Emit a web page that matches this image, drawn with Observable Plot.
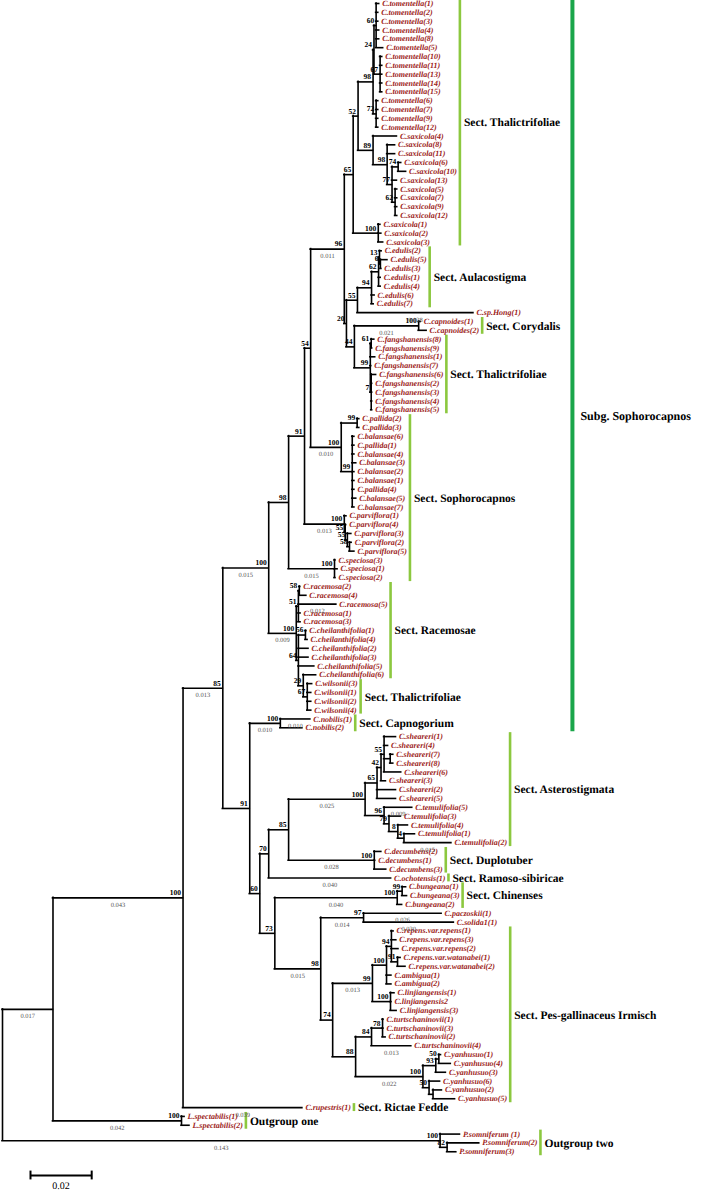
<!DOCTYPE html>
<html><head><meta charset="utf-8">
<script src="https://cdn.jsdelivr.net/npm/d3@7"></script>
<script src="https://cdn.jsdelivr.net/npm/@observablehq/plot@0.6"></script>
<style>
html,body{margin:0;padding:0;background:#fff;}
#chart svg{display:block;}
#chart svg text{-webkit-font-smoothing:antialiased;text-rendering:geometricPrecision;}
</style>
</head><body><div id="chart"></div>
<script>
// ---------- DATA (branch lengths in substitutions/site, support values) ----------
const L = (name, len) => ({name, length: len, children: []});
const C = (support, len, ...kids) => ({name: support, length: len, children: kids});

const tomentella = C("98", 0.0049,
  C("24", 0.0003,
    C("60", 0.0007, L("C.tomentella(1)", 0.001), L("C.tomentella(2)", 0.0007), L("C.tomentella(3)", 0.0007), L("C.tomentella(4)", 0.001), L("C.tomentella(8)", 0.001), L("C.tomentella(5)", 0.0023)),
    C("67", 0.002, L("C.tomentella(10)", 0.0007), L("C.tomentella(11)", 0.0007), L("C.tomentella(13)", 0.0007), L("C.tomentella(14)", 0.0007), L("C.tomentella(15)", 0.0007))),
  C("72", 0.001, L("C.tomentella(6)", 0.0007), L("C.tomentella(7)", 0.0007), L("C.tomentella(9)", 0.0007), L("C.tomentella(12)", 0.0007)));

const saxicolaA = C("89", 0.0049, L("C.saxicola(4)", 0.0078),
  C("98", 0.0046, L("C.saxicola(8)", 0.0026), L("C.saxicola(11)", 0.0026),
    C("77", 0.0016,
      C("74", 0.002, L("C.saxicola(6)", 0.001), L("C.saxicola(10)", 0.0026)),
      L("C.saxicola(13)", 0.0016),
      C("62", 0.001, L("C.saxicola(5)", 0.0007), L("C.saxicola(7)", 0.0007), L("C.saxicola(9)", 0.0007), L("C.saxicola(12)", 0.0007)))));

const saxicolaB = C("100", 0.0082, L("C.saxicola(1)", 0.0007), L("C.saxicola(2)", 0.001), L("C.saxicola(3)", 0.0016));

const edulis = C("94", 0.0046,
  C("62", 0.0023,
    C("13", 0.0003, L("C.edulis(2)", 0.0007), C("6", 0.0003, L("C.edulis(5)", 0.0023), L("C.edulis(3)", 0.0003))),
    L("C.edulis(1)", 0.0007), L("C.edulis(4)", 0.0007)),
  L("C.edulis(6)", 0.001), L("C.edulis(7)", 0.0007));

const capnoides = C("100", 0.021, L("C.capnoides(1)", 0.0007), L("C.capnoides(2)", 0.0026));

const fangshanensis = C("99", 0.0052,
  C("61", 0.0003, L("C.fangshanensis(8)", 0.001), L("C.fangshanensis(9)", 0.0003)),
  L("C.fangshanensis(1)", 0.0016), L("C.fangshanensis(7)", 0.0003),
  C("7", 0.0003, L("C.fangshanensis(6)", 0.0016), L("C.fangshanensis(2)", 0.0003), L("C.fangshanensis(3)", 0.0003), L("C.fangshanensis(4)", 0.0003), L("C.fangshanensis(5)", 0.0003)));

const clade96 = C("96", 0.011,
  C("65", 0.0029, C("52", 0.0016, tomentella, saxicolaA), saxicolaB),
  C("20", 0.0007,
    C("55", 0.0036, edulis, L("C.sp.Hong(1)", 0.0379)),
    C("44", 0.0026, capnoides, fangshanensis)));

const balansae = C("100", 0.010,
  C("99", 0.0052, L("C.pallida(2)", 0.0007), L("C.pallida(3)", 0.0007)),
  C("99", 0.0036, L("C.balansae(6)", 0.0007), L("C.pallida(1)", 0.0007), L("C.balansae(4)", 0.0007), L("C.balansae(3)", 0.0013), L("C.balansae(2)", 0.0007), L("C.balansae(1)", 0.0007), L("C.pallida(4)", 0.0007), L("C.balansae(5)", 0.0013), L("C.balansae(7)", 0.0007)));

const parviflora = C("100", 0.013, L("C.parviflora(1)", 0.0007),
  C("55", 0.0003, L("C.parviflora(4)", 0.0003),
    C("55", 0.0007, L("C.parviflora(3)", 0.0013),
      C("58", 0.0007, L("C.parviflora(2)", 0.0007), L("C.parviflora(5)", 0.0016)))));

const speciosa = C("100", 0.015, L("C.speciosa(3)", 0.0003), L("C.speciosa(1)", 0.001), L("C.speciosa(2)", 0.0003));

const racemosae = C("100", 0.009,
  C("51", 0.0007,
    C("58", 0.0003, L("C.racemosa(2)", 0.0003), L("C.racemosa(4)", 0.0023)),
    L("C.racemosa(5)", 0.0124), L("C.racemosa(1)", 0.0007), L("C.racemosa(3)", 0.0007)),
  C("64", 0.0007,
    C("56", 0.0023, L("C.cheilanthifolia(1)", 0.0003), L("C.cheilanthifolia(4)", 0.0007)),
    L("C.cheilanthifolia(2)", 0.0033), L("C.cheilanthifolia(3)", 0.0033), L("C.cheilanthifolia(5)", 0.0052),
    C("29", 0.0016, L("C.cheilanthifolia(6)", 0.0042),
      C("67", 0.0013, L("C.wilsonii(3)", 0.0016), L("C.wilsonii(1)", 0.0013), L("C.wilsonii(2)", 0.0013), L("C.wilsonii(4)", 0.0013)))));

const sophorocapnos = C("100", 0.015,
  C("98", 0.0065,
    C("91", 0.0052, C("54", 0.002, clade96, balansae), parviflora),
    speciosa),
  racemosae);

const nobilis = C("100", 0.010, L("C.nobilis(1)", 0.0098), L("C.nobilis(2)", 0.0072));

const asterostigmata = C("100", 0.025,
  C("65", 0.0039,
    C("42", 0.0013,
      C("55", 0.001, L("C.sheareri(1)", 0.0039), L("C.sheareri(4)", 0.0013), C("", 0.002, L("C.sheareri(7)", 0.001), L("C.sheareri(8)", 0.001)), L("C.sheareri(6)", 0.0056)),
      L("C.sheareri(3)", 0.0016)),
    L("C.sheareri(2)", 0.0062), L("C.sheareri(5)", 0.0062)),
  C("96", 0.0062, L("C.temulifolia(5)", 0.0092),
    C("79", 0.0016, L("C.temulifolia(3)", 0.0039),
      C("8", 0.0029, L("C.temulifolia(4)", 0.0033),
        C("4", 0.002, L("C.temulifolia(1)", 0.0036), L("C.temulifolia(2)", 0.0155))))));

const decumbens = C("100", 0.028, L("C.decumbens(2)", 0.0023), L("C.decumbens(1)", 0.0003), L("C.decumbens(3)", 0.0039));

const bungeana = C("100", 0.040, C("99", 0.0016, L("C.bungeana(1)", 0.0013), L("C.bungeana(3)", 0.0016)), L("C.bungeana(2)", 0.0016));

const solida = C("97", 0.014, L("C.paczoskii(1)", 0.0255), L("C.solida1(1)", 0.0295));

const repens = C("99", 0.013,
  C("100", 0.0046,
    C("94", 0.0016, L("C.repens.var.repens(1)", 0.0007), L("C.repens.var.repens(3)", 0.0016), L("C.repens.var.repens(2)", 0.0023),
      C("91", 0.002, L("C.repens.var.watanabei(1)", 0.001), L("C.repens.var.watanabei(2)", 0.0026))),
    L("C.ambigua(1)", 0.0016), L("C.ambigua(2)", 0.0016)),
  C("100", 0.0059, L("C.linjiangensis(1)", 0.0013), L("C.linjiangensis2", 0.0003), L("C.linjiangensis(3)", 0.002)));

const yanhusuo = C("88", 0.0075,
  C("84", 0.0052,
    C("78", 0.0036, L("C.turtschaninovii(1)", 0.0003), L("C.turtschaninovii(3)", 0.0003), L("C.turtschaninovii(2)", 0.001)),
    L("C.turtschaninovii(4)", 0.013)),
  C("100", 0.022,
    C("93", 0.0042, C("50", 0.001, L("C.yanhusuo(1)", 0.0007), L("C.yanhusuo(4)", 0.0039)), L("C.yanhusuo(3)", 0.0033)),
    C("50", 0.002, L("C.yanhusuo(6)", 0.0036), C("", 0.0013, L("C.yanhusuo(2)", 0.0029), L("C.yanhusuo(5)", 0.0072)))));

const lowerClade = C("91", 0.0088, nobilis,
  C("60", 0.0033,
    C("70", 0.0029, C("85", 0.0065, asterostigmata, decumbens), L("C.ochotensis(1)", 0.040)),
    C("73", 0.0049, bungeana,
      C("98", 0.015, solida, C("74", 0.0039, repens, yanhusuo)))));

const tree = C("", 0,
  C("", 0.0165,
    C("100", 0.0425, C("85", 0.013, sophorocapnos, lowerClade), L("C.rupestris(1)", 0.039)),
    C("100", 0.042, L("L.spectabilis(1)", 0.001), L("L.spectabilis(2)", 0.0026))),
  C("100", 0.143, L("P.somniferum (1)", 0.0065), C("82", 0.0023, L("P.somniferum(2)", 0.0105), L("P.somniferum(3)", 0.003))));

// branch-length annotations: [text, first leaf of clade, last leaf of clade]
const branchLengthLabels = [
  ["0.017", "C.tomentella(1)", "L.spectabilis(2)"],
  ["0.143", "P.somniferum (1)", "P.somniferum(3)"],
  ["0.043", "C.tomentella(1)", "C.rupestris(1)"],
  ["0.042", "L.spectabilis(1)", "L.spectabilis(2)"],
  ["0.039", "C.rupestris(1)", "C.rupestris(1)"],
  ["0.013", "C.tomentella(1)", "C.yanhusuo(5)"],
  ["0.015", "C.tomentella(1)", "C.wilsonii(4)"],
  ["0.009", "C.racemosa(2)", "C.wilsonii(4)"],
  ["0.015", "C.speciosa(3)", "C.speciosa(2)"],
  ["0.013", "C.parviflora(1)", "C.parviflora(5)"],
  ["0.010", "C.pallida(2)", "C.balansae(7)"],
  ["0.011", "C.tomentella(1)", "C.fangshanensis(5)"],
  ["0.038", "C.sp.Hong(1)", "C.sp.Hong(1)"],
  ["0.021", "C.capnoides(1)", "C.capnoides(2)"],
  ["0.012", "C.racemosa(5)", "C.racemosa(5)"],
  ["0.010", "C.nobilis(1)", "C.nobilis(2)"],
  ["0.010", "C.nobilis(1)", "C.nobilis(1)"],
  ["0.025", "C.sheareri(1)", "C.temulifolia(2)"],
  ["0.009", "C.temulifolia(5)", "C.temulifolia(5)"],
  ["0.015", "C.temulifolia(2)", "C.temulifolia(2)"],
  ["0.028", "C.decumbens(2)", "C.decumbens(3)"],
  ["0.040", "C.ochotensis(1)", "C.ochotensis(1)"],
  ["0.040", "C.bungeana(1)", "C.bungeana(2)"],
  ["0.014", "C.paczoskii(1)", "C.solida1(1)"],
  ["0.026", "C.paczoskii(1)", "C.paczoskii(1)"],
  ["0.030", "C.solida1(1)", "C.solida1(1)"],
  ["0.015", "C.paczoskii(1)", "C.yanhusuo(5)"],
  ["0.013", "C.repens.var.repens(1)", "C.linjiangensis(3)"],
  ["0.013", "C.turtschaninovii(4)", "C.turtschaninovii(4)"],
  ["0.022", "C.yanhusuo(1)", "C.yanhusuo(5)"]
];

// sections: [prefix, italic name, author, first leaf, last leaf]
const sections = [
  ["Sect.", "Thalictrifoliae", "", "C.tomentella(1)", "C.saxicola(3)"],
  ["Sect.", "Aulacostigma", "", "C.edulis(2)", "C.edulis(7)"],
  ["Sect.", "Corydalis", "", "C.capnoides(1)", "C.capnoides(2)"],
  ["Sect.", "Thalictrifoliae", "", "C.fangshanensis(8)", "C.fangshanensis(5)"],
  ["Sect.", "Sophorocapnos", "", "C.pallida(2)", "C.speciosa(2)"],
  ["Sect.", "Racemosae", "", "C.racemosa(2)", "C.cheilanthifolia(6)"],
  ["Sect.", "Thalictrifoliae", "", "C.wilsonii(3)", "C.wilsonii(4)"],
  ["Sect.", "Capnogorium", "", "C.nobilis(1)", "C.nobilis(2)"],
  ["Sect.", "Asterostigmata", "", "C.sheareri(1)", "C.temulifolia(2)"],
  ["Sect.", "Duplotuber", "", "C.decumbens(2)", "C.decumbens(3)"],
  ["Sect.", "Ramoso-sibiricae", "", "C.ochotensis(1)", "C.ochotensis(1)"],
  ["Sect.", "Chinenses", "", "C.bungeana(1)", "C.bungeana(2)"],
  ["Sect.", "Pes-gallinaceus", "Irmisch", "C.repens.var.repens(1)", "C.yanhusuo(5)"],
  ["Sect.", "Rictae Fedde", "", "C.rupestris(1)", "C.rupestris(1)"],
  ["", "Outgroup one", "", "L.spectabilis(1)", "L.spectabilis(2)"],
  ["", "Outgroup two", "", "P.somniferum (1)", "P.somniferum(3)"]
];
const subgenus = ["Subg.", "Sophorocapnos", "C.tomentella(1)", "C.nobilis(2)"];
const scaleBarLength = 0.02;

// ---------- LAYOUT ----------
const W = 709, H = 1191, ML = 2, MT = 3;
const PPU = 3060;                 // pixels per substitution unit
const xMax = (W - ML) / PPU;
const yMax = 134.5;               // leaf rows incl. room for scale bar
const rowPx = (H - MT) / yMax;
const xpx = v => ML + v * PPU;
const xinv = p => (p - ML) / PPU;

const leaves = [], internals = [], hBranches = [], vBranches = [];
(function walk(n, px, parent) {
  n.x = px + n.length;
  n.parent = parent;
  if (!n.children.length) {
    n.y = leaves.length; leaves.push(n); n.first = n.last = n.name;
  } else {
    n.children.forEach(c => walk(c, n.x, n));
    const a = n.children[0], b = n.children[n.children.length - 1];
    n.y = (a.y + b.y) / 2; n.first = a.first; n.last = b.last;
    internals.push(n);
    vBranches.push({x: n.x, y1: a.y, y2: b.y});
  }
  if (parent) hBranches.push({x1: parent.x, x2: n.x, y: n.y});
})(tree, 0, null);

const byClade = new Map();
for (const n of [...leaves, ...internals]) byClade.set(n.first + "|" + n.last, n);
const blRows = branchLengthLabels.map(([t, f, l]) => {
  const n = byClade.get(f + "|" + l);
  return {text: t, x: (n.parent.x + n.x) / 2, y: n.y};
});

const ctx = document.createElement("canvas").getContext("2d");
const tw = (t, font) => { ctx.font = font; return ctx.measureText(t).width; };
const FAM = "'Liberation Serif', 'Times New Roman', serif";
const leafFont = `italic bold 8px ${FAM}`;
const secSize = 11.5;
const leafIdx = new Map(leaves.map((d, i) => [d.name, i]));

const secRows = sections.map(([prefix, name, author, f, l]) => {
  const i1 = leafIdx.get(f), i2 = leafIdx.get(l);
  let mx = 0;
  for (let i = i1; i <= i2; i++) mx = Math.max(mx, xpx(leaves[i].x) + 3 + tw(leaves[i].name, leafFont));
  const bpx = mx + 3;
  const italic = prefix !== "";
  const w = (prefix ? tw(prefix + " ", `bold ${secSize}px ${FAM}`) : 0) +
            tw(name, `${italic ? "italic " : ""}bold ${secSize}px ${FAM}`) +
            (author ? tw(" " + author, `bold ${secSize}px ${FAM}`) : 0);
  return {prefix, name, author, italic, i1, i2, bx: xinv(bpx), lx: xinv(bpx + 4), end: bpx + 4 + w,
          y1: i1 - 0.45, y2: i2 + 0.45, ym: (i1 + i2) / 2,
          full: (prefix ? prefix + " " : "") + name + (author ? " " + author : "")};
});
const s1 = leafIdx.get(subgenus[2]), s2 = leafIdx.get(subgenus[3]);
const subEnd = d3.max(secRows.filter(r => r.i1 >= s1 && r.i2 <= s2), r => r.end);
const subRow = {bx: xinv(subEnd + 14), lx: xinv(subEnd + 22), y1: s1 - 0.6, y2: s2 + 0.45,
                ym: s1 + (s2 - s1) * 0.57};

const SB_X = xinv(30);
const SB_Y = (1175 - MT) / rowPx;

const plot = Plot.plot({
  width: W, height: H,
  marginLeft: ML, marginTop: MT, marginRight: 0, marginBottom: 0,
  x: {domain: [0, xMax], range: [ML, W], axis: null},
  y: {domain: [0, yMax], range: [MT, H], axis: null},
  style: {background: "#fff", fontFamily: FAM},
  marks: [
    Plot.ruleX(secRows, {x: "bx", y1: "y1", y2: "y2", stroke: "#8cc83f", strokeWidth: 2.6}),
    Plot.ruleX([subRow], {x: "bx", y1: "y1", y2: "y2", stroke: "#1aa64a", strokeWidth: 4}),
    Plot.ruleY(hBranches, {y: "y", x1: "x1", x2: "x2", stroke: "#000", strokeWidth: 1.6, strokeLinecap: "square"}),
    Plot.ruleX(vBranches, {x: "x", y1: "y1", y2: "y2", stroke: "#000", strokeWidth: 1.6, strokeLinecap: "square"}),
    Plot.text(leaves, {x: "x", y: "y", text: "name", dx: 3, textAnchor: "start", fill: "#9c1c20",
      fontSize: 8, fontStyle: "italic", fontWeight: "bold"}),
    Plot.text(internals.filter(d => d.name), {x: "x", y: "y", text: "name", dx: -2, dy: -5, textAnchor: "end",
      fill: "#000", fontSize: 7.5, fontWeight: "bold", ariaLabel: "support"}),
    Plot.text(blRows, {x: "x", y: "y", text: "text", dy: 7, fill: "#555", fontSize: 6.5, ariaLabel: "branch-length"}),
    Plot.text(secRows, {x: "lx", y: "ym", text: "full", textAnchor: "start", fill: "#000",
      fontSize: secSize, fontWeight: "bold", ariaLabel: "section-label"}),
    Plot.text([subRow], {x: "lx", y: "ym", text: () => subgenus[0] + " " + subgenus[1], textAnchor: "start",
      fill: "#000", fontSize: 12, fontWeight: "bold", ariaLabel: "subgenus-label"}),
    Plot.ruleY([scaleBarLength], {y: () => SB_Y, x1: () => SB_X, x2: d => SB_X + d, stroke: "#000", strokeWidth: 2}),
    Plot.ruleX([0, scaleBarLength], {x: d => SB_X + d, y1: () => SB_Y - 0.5, y2: () => SB_Y + 0.5, stroke: "#000", strokeWidth: 2}),
    Plot.text([scaleBarLength], {x: d => SB_X + d / 2, y: () => SB_Y + 1.15, text: d => String(d), fontSize: 10, fill: "#000", ariaLabel: "scale-label"})
  ]
});

// mixed upright / italic styling for section names
const svg = d3.select(plot);
svg.selectAll('g[aria-label="section-label"] text').each(function (_, i) {
  const r = secRows[i], t = d3.select(this);
  t.text(null);
  if (r.prefix) t.append("tspan").text(r.prefix + " ");
  t.append("tspan").attr("font-style", r.italic ? "italic" : null).text(r.name);
  if (r.author) t.append("tspan").text(" " + r.author);
});
svg.selectAll('g[aria-label="subgenus-label"] text').each(function () {
  const t = d3.select(this);
  t.text(null);
  t.append("tspan").text(subgenus[0] + " ");
  t.append("tspan").attr("font-style", "italic").text(subgenus[1]);
});
// neutral (grey-scale) anti-aliasing for the black annotation texts
svg.insert("defs", ":first-child").append("filter").attr("id", "neutral-text")
  .attr("filterUnits", "userSpaceOnUse").attr("x", 0).attr("y", 0).attr("width", W).attr("height", H)
  .append("feColorMatrix").attr("type", "saturate").attr("values", 0);
svg.selectAll('g[aria-label="support"], g[aria-label="branch-length"], g[aria-label="section-label"], g[aria-label="subgenus-label"], g[aria-label="scale-label"]')
  .attr("filter", "url(#neutral-text)").attr("opacity", 0.995);
document.getElementById("chart").appendChild(plot);
</script>
</body></html>
